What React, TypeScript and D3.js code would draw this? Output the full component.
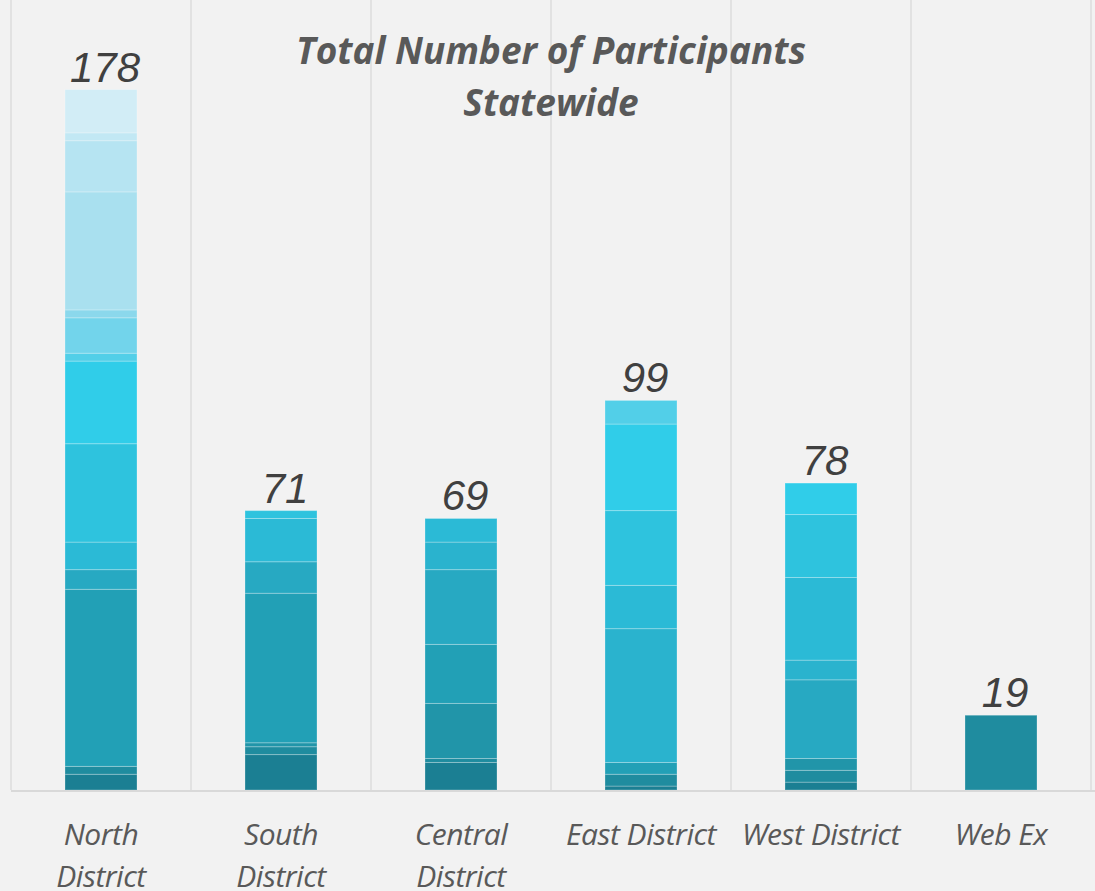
import React, { useEffect, useRef } from "react";
import * as d3 from "d3";

// districts along the x axis
const categories = [
  "North District",
  "South District",
  "Central District",
  "East District",
  "West District",
  "Web Ex",
];
const tickLines = [
  ["North", "District"],
  ["South", "District"],
  ["Central", "District"],
  ["East District"],
  ["West District"],
  ["Web Ex"],
];

// one stacked series per session, dark (bottom) to light (top)
const seriesColors = [
  "#1b7f93", "#1f8c9f", "#2195a9", "#22a0b6",
  "#27a9c2", "#2ab3ce", "#2bbad6", "#2ec3de",
  "#30cde9", "#52cfe8", "#72d4eb", "#8bd8ec",
  "#a9e0ef", "#b6e4f2", "#c2e8f4", "#d2edf6",
];

// values per district, one column per series
const northValues = [4, 2, 0, 45, 5, 0, 7, 25, 21, 2, 9, 2, 30, 13, 2, 11];
const southValues = [9, 2, 1, 38, 8, 0, 11, 2, 0, 0, 0, 0, 0, 0, 0, 0];
const centralValues = [7, 1, 14, 15, 19, 7, 6, 0, 0, 0, 0, 0, 0, 0, 0, 0];
const eastValues = [1, 3, 0, 3, 0, 34, 11, 19, 22, 6, 0, 0, 0, 0, 0, 0];
const westValues = [2, 3, 3, 0, 20, 5, 21, 16, 8, 0, 0, 0, 0, 0, 0, 0];
const webExValues = [0, 19, 0, 0, 0, 0, 0, 0, 0, 0, 0, 0, 0, 0, 0, 0];

const title = ["Total Number of Participants", "Statewide"];

const App = () => {
  const chartRef = useRef(null);

  useEffect(() => {
    document.body.style.margin = "0";
    const width = 1095;
    const height = 891;
    const left = 11;
    const right = 1091;
    const baseY = 790;

    const rows = [northValues, southValues, centralValues, eastValues, westValues, webExValues];
    const keys = seriesColors.map((_, i) => "s" + i);
    const table = categories.map((c, ci) => {
      const row: any = { category: c };
      keys.forEach((k, i) => (row[k] = rows[ci][i]));
      return row;
    });

    d3.select(chartRef.current).selectAll("*").remove();

    const svg = d3
      .select(chartRef.current)
      .append("svg")
      .attr("width", width)
      .attr("height", height)
      .style("display", "block");

    // background
    svg.append("rect").attr("width", width).attr("height", height).attr("fill", "#f2f2f2");

    const xScale = d3.scaleBand().domain(categories).range([left, right]).padding(0);
    const yScale = d3.scaleLinear().domain([0, 200]).range([baseY, 3]);
    const barWidth = 72;

    // vertical grid lines between categories
    const bounds = categories.map((c) => xScale(c)).concat([right]);
    svg
      .append("g")
      .selectAll("line")
      .data(bounds)
      .join("line")
      .attr("x1", (d) => d)
      .attr("x2", (d) => d)
      .attr("y1", 0)
      .attr("y2", baseY)
      .attr("stroke", "#dcdcdc")
      .attr("stroke-width", 1.5);

    // stacked bars
    const stacked = d3.stack().keys(keys)(table);
    svg
      .append("g")
      .selectAll("g")
      .data(stacked)
      .join("g")
      .attr("fill", (d, i) => seriesColors[i])
      .selectAll("rect")
      .data((d) => d.filter((p) => p[1] - p[0] > 0))
      .join("rect")
      .attr("x", (d) => xScale(d.data.category) + xScale.bandwidth() / 2 - barWidth / 2)
      .attr("y", (d) => yScale(d[1]))
      .attr("width", barWidth)
      .attr("height", (d) => yScale(d[0]) - yScale(d[1]))
      .attr("stroke", "rgba(255,255,255,0.25)")
      .attr("stroke-width", 1);

    // baseline
    svg
      .append("line")
      .attr("x1", left)
      .attr("x2", width)
      .attr("y1", baseY + 1)
      .attr("y2", baseY + 1)
      .attr("stroke", "#d9d9d9")
      .attr("stroke-width", 2);

    // totals above bars
    svg
      .append("g")
      .selectAll("text")
      .data(table)
      .join("text")
      .attr("x", (d) => xScale(d.category) + xScale.bandwidth() / 2 + 4)
      .attr("y", (d) => yScale(d3.sum(keys, (k) => d[k])) - 8)
      .attr("text-anchor", "middle")
      .style("font-family", "'Liberation Sans', Arial, sans-serif")
      .style("font-style", "italic")
      .style("font-size", "42px")
      .style("fill", "#404040")
      .text((d) => d3.sum(keys, (k) => d[k]));

    // category labels
    const labels = svg
      .append("g")
      .selectAll("text")
      .data(categories)
      .join("text")
      .attr("text-anchor", "middle")
      .style("font-family", "'Open Sans', sans-serif")
      .style("font-style", "italic")
      .style("font-size", "30px")
      .style("letter-spacing", "-0.5px")
      .style("fill", "#595959");
    labels
      .selectAll("tspan")
      .data((d, i) => tickLines[i].map((t) => ({ t, c: d })))
      .join("tspan")
      .attr("x", (d) => xScale(d.c) + xScale.bandwidth() / 2)
      .attr("y", (d, i) => 845 + i * 42)
      .text((d) => d.t);

    // title
    svg
      .append("g")
      .selectAll("text")
      .data(title)
      .join("text")
      .attr("x", (left + right) / 2)
      .attr("y", (d, i) => 64 + i * 52)
      .attr("text-anchor", "middle")
      .style("font-family", "'Open Sans', sans-serif")
      .style("font-style", "italic")
      .style("font-weight", "bold")
      .style("font-size", "37px")
      .style("fill", "#595959")
      .text((d) => d);
  }, []);

  return <div ref={chartRef}></div>;
};

export default App;
